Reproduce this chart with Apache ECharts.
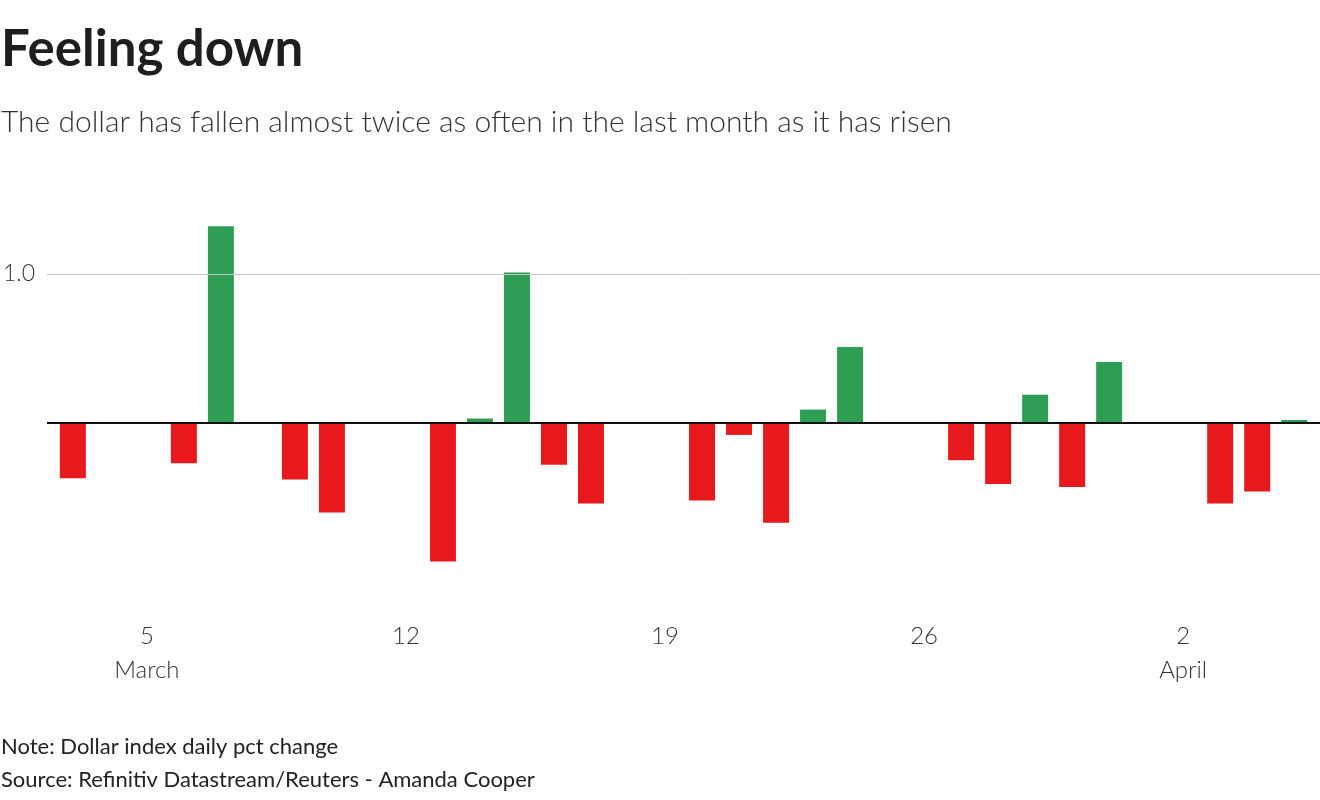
<!DOCTYPE html>
<html>
<head>
<meta charset="utf-8">
<script src="https://cdn.jsdelivr.net/npm/echarts@6/dist/echarts.min.js"></script>
<style>
  html, body { margin: 0; padding: 0; background: #fff; }
  #chart { width: 1320px; height: 800px; }
</style>
</head>
<body>
<div id="chart"></div>
<script>
// Trading days (2023) and dollar index daily % change
const dates = [
  '2023-03-03', '2023-03-06', '2023-03-07', '2023-03-09', '2023-03-10',
  '2023-03-13', '2023-03-14', '2023-03-15', '2023-03-16', '2023-03-17',
  '2023-03-20', '2023-03-21', '2023-03-22', '2023-03-23', '2023-03-24',
  '2023-03-27', '2023-03-28', '2023-03-29', '2023-03-30', '2023-03-31',
  '2023-04-03', '2023-04-04', '2023-04-05'
];
const pctChange = [
  -0.37, -0.27, 1.32, -0.38, -0.60,
  -0.93, 0.03, 1.01, -0.28, -0.54,
  -0.52, -0.08, -0.67, 0.09, 0.51,
  -0.25, -0.41, 0.19, -0.43, 0.41,
  -0.54, -0.46, 0.02
];
// x tick labels (day numbers counted from 1 March; Apr 2 = 33)
const xTickDays = [5, 12, 19, 26, 33];
const xTickLabels = ['5\nMarch', '12', '19', '26', '2\nApril'];
const yTickValues = [1];
const yTickLabels = ['1.0'];

const title = 'Feeling down';
const subtitle = 'The dollar has fallen almost twice as often in the last month as it has risen';
const note = 'Note: Dollar index daily pct change';
const source = 'Source: Refinitiv Datastream/Reuters - Amanda Cooper';

const RED = '#e8191c';
const GREEN = '#2f9e55';
const FONT = 'Lato, "Noto Sans", sans-serif';

const base = Date.UTC(2023, 1, 28); // 28 Feb -> day 0, so 1 Mar = 1
function dayNum(s) {
  const [y, m, d] = s.split('-').map(Number);
  return Math.round((Date.UTC(y, m - 1, d) - base) / 86400000);
}

const barData = dates.map((d, i) => ({
  value: [dayNum(d), pctChange[i]],
  itemStyle: { color: pctChange[i] >= 0 ? GREEN : RED }
}));

const chart = echarts.init(document.getElementById('chart'), null, { renderer: 'canvas' });
chart.setOption({
  backgroundColor: '#fff',
  animation: false,
  textStyle: { fontFamily: FONT },
  grid: { left: 45, right: 0, top: 199.5, height: 417.2, containLabel: false },
  graphic: [
    { type: 'text', left: 1, top: 24, style: { text: title, font: 'bold 51px ' + FONT, fill: '#1e1e1e' } },
    { type: 'text', left: 1, top: 107, style: { text: subtitle, font: '300 30px ' + FONT, fill: '#333' } },
    { type: 'text', left: 1, top: 736, style: { text: note, font: '22px ' + FONT, fill: '#222' } },
    { type: 'text', left: 1, top: 769, style: { text: source, font: '22px ' + FONT, fill: '#222' } }
  ],
  xAxis: {
    type: 'value',
    min: 2.302,
    max: 36.697,
    axisLine: { show: false },
    axisTick: { show: false },
    splitLine: { show: false },
    axisLabel: {
      customValues: xTickDays,
      formatter: (v) => xTickLabels[xTickDays.indexOf(Math.round(v))] || '',
      fontSize: 24,
      fontWeight: 300,
      color: '#333',
      lineHeight: 34,
      margin: 3,
      fontFamily: FONT
    }
  },
  yAxis: {
    type: 'value',
    min: -1.3,
    max: 1.5,
    axisLine: { show: false },
    axisTick: { show: false },
    splitLine: { show: false },
    axisLabel: {
      customValues: yTickValues,
      formatter: (v) => yTickLabels[yTickValues.indexOf(v)] || '',
      fontSize: 23,
      fontWeight: 300,
      color: '#333',
      align: 'left',
      margin: 44,
      fontFamily: FONT
    }
  },
  series: [{
    type: 'bar',
    barWidth: 26,
    data: barData,
    markLine: {
      silent: true,
      symbol: ['none', 'none'],
      label: { show: false },
      data: [
        { yAxis: 1, lineStyle: { color: '#c6c2cc', width: 1, type: 'solid' } },
        { yAxis: 0, lineStyle: { color: '#111', width: 2, type: 'solid' } }
      ]
    }
  }]
});
</script>
</body>
</html>
